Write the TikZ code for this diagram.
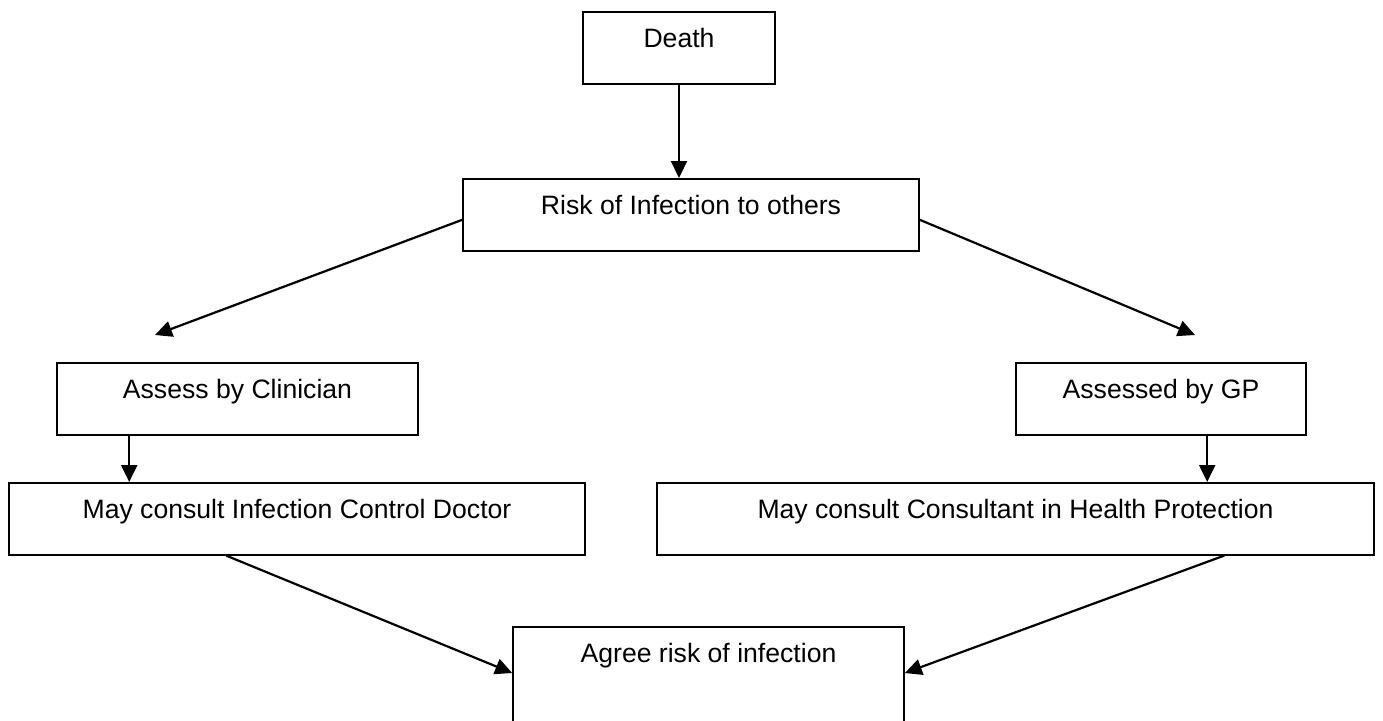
\documentclass[tikz,border=0pt]{standalone}
\usepackage{fontspec}
\setmainfont{Liberation Sans}
\usepackage{tikz}
\usetikzlibrary{arrows.meta,positioning,calc}

\begin{document}
\begin{tikzpicture}[x=0.5pt,y=0.5pt,font=\fontsize{13.3}{16}\selectfont,
  box/.style={draw,line width=0.8pt,anchor=north,inner xsep=0pt,inner ysep=0pt,
    text height=17.75pt,text depth=18.25pt},
  flow/.style={-{Triangle[length=8.5pt,width=8pt]},line width=1.1pt}]
\useasboundingbox (0,0) rectangle (1383,-720);
\clip (0,0) rectangle (1383,-720);
% boxes, top edge given
\node[box,minimum width=96pt] (death) at (679,-11) {Death};
\node[box,minimum width=228pt] (risk) at (691,-178) {Risk of Infection to others};
\node[box,minimum width=180.5pt] (clin) at (237.5,-362) {Assess by Clinician};
\node[box,minimum width=145pt] (gp) at (1161,-362) {Assessed by GP};
\node[box,minimum width=288pt] (icd) at (297,-482) {May consult Infection Control Doctor};
\node[box,minimum width=358.5pt] (chp) at (1015.5,-482) {May consult Consultant in Health Protection};
\node[box,minimum width=195.5pt,text depth=34pt] (agree) at (708.5,-626) {Agree risk of infection};
\coordinate (clinTip) at (155,-335);
\coordinate (gpTip) at (1195,-335);
% connectors
\draw[flow] (death.south) -- (death.south |- risk.north);
\draw[flow] ([yshift=-2.5pt]risk.west) -- (clinTip);
\draw[flow] ([yshift=-2.5pt]risk.east) -- (gpTip);
\draw[flow] ([xshift=36.5pt]clin.south west) -- ([xshift=36.5pt]clin.south west |- icd.north);
\draw[flow] ([xshift=96pt]gp.south west) -- ([xshift=96pt]gp.south west |- chp.north);
\draw[flow] ([xshift=109pt]icd.south west) -- ([yshift=-23.5pt]agree.north west);
\draw[flow] ([xshift=284pt]chp.south west) -- ([yshift=-23.5pt]agree.north east);
\end{tikzpicture}
\end{document}
